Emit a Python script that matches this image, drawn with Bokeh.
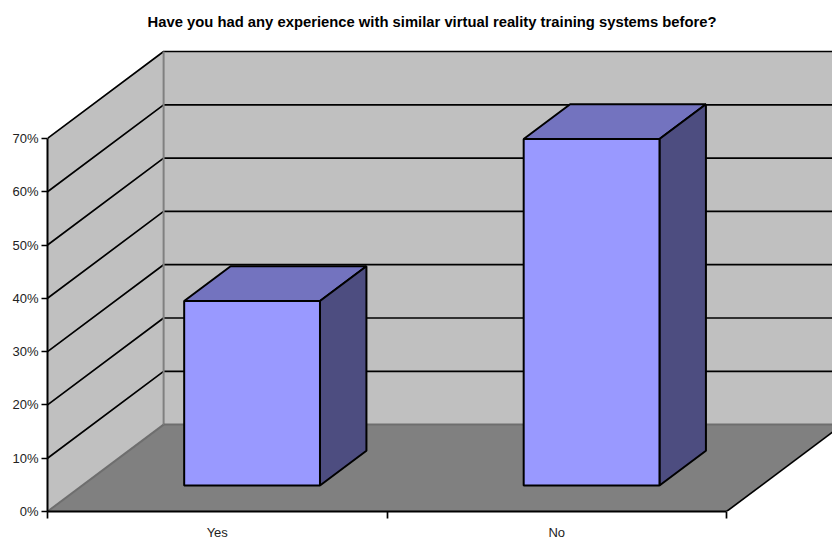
from bokeh.plotting import figure
from bokeh.embed import file_html
from bokeh.resources import INLINE
from bokeh.models import Range1d, LinearAxis, FixedTicker, Title

title_text = "Have you had any experience with similar virtual reality training systems before?"
categories = ["Yes", "No"]
values = [34.6, 65]
y_ticks = [0, 10, 20, 30, 40, 50, 60, 70]
y_tick_labels = ["0%", "10%", "20%", "30%", "40%", "50%", "60%", "70%"]

DX, DY = 0.342, 16.3     # oblique offset of the full chart depth (x in categories, y in percent)
BAR_W, Z0, Z1 = 0.4, 0.3, 0.7
TOP = y_ticks[-1]
N = len(categories)

def px(x, z):
    return x + z * DX

def py(y, z):
    return y + z * DY

p = figure(width=832, height=540, frame_width=785, frame_height=475,
           output_backend="svg", toolbar_location=None,
           x_range=Range1d(0, 785 / 339.5), y_range=Range1d(0, 475 / 5.33),
           x_axis_type=None, y_axis_type=None,
           min_border_left=47, min_border_right=0, min_border_top=36, min_border_bottom=29,
           outline_line_color=None, background_fill_color="white")
p.grid.visible = False

FONT = "Liberation Sans"
p.add_layout(Title(text=title_text, align="left", offset=100, text_font=FONT,
                   text_font_size="14.8px", text_font_style="bold", text_color="black",
                   standoff=14), "above")

WALL, FLOOR = "#c0c0c0", "#808080"
XMAX = N + DX

# walls and floor
p.patch([px(0, 1), px(XMAX, 1), px(XMAX, 1), px(0, 1)],
        [py(0, 1), py(0, 1), py(TOP, 1), py(TOP, 1)], fill_color=WALL, line_color=None)
p.patch([px(0, 0), px(0, 1), px(0, 1), px(0, 0)],
        [py(0, 0), py(0, 1), py(TOP, 1), py(TOP, 0)], fill_color=WALL, line_color=None)
p.patch([px(0, 0), px(N, 0), px(N, 1), px(0, 1)],
        [py(0, 0), py(0, 0), py(0, 1), py(0, 1)], fill_color=FLOOR, line_color=None)

# grid lines
for t in y_ticks[1:]:
    p.line([px(0, 0), px(0, 1), px(XMAX, 1)], [py(t, 0), py(t, 1), py(t, 1)],
           line_color="black", line_width=1.7)

# wall edges
p.line([px(0, 1), px(0, 1)], [py(0, 1), py(TOP, 1)], line_color="#808080", line_width=2)
p.line([px(0, 0), px(0, 1)], [py(0, 0), py(0, 1)], line_color="#6e6e6e", line_width=2)
p.line([px(0, 1), px(XMAX, 1)], [py(0, 1), py(0, 1)], line_color="#6e6e6e", line_width=2)
p.line([px(N, 0), px(N, 1)], [py(0, 0), py(0, 1)], line_color="black", line_width=1.7)

# bars
for i, v in enumerate(values):
    x0 = i + 0.5 - BAR_W / 2
    x1 = i + 0.5 + BAR_W / 2
    p.patch([px(x0, Z0), px(x1, Z0), px(x1, Z1), px(x0, Z1)],
            [py(v, Z0), py(v, Z0), py(v, Z1), py(v, Z1)],
            fill_color="#7373bf", line_color="black", line_width=2)
    p.patch([px(x1, Z0), px(x1, Z1), px(x1, Z1), px(x1, Z0)],
            [py(0, Z0), py(0, Z1), py(v, Z1), py(v, Z0)],
            fill_color="#4d4d80", line_color="black", line_width=2)
    p.patch([px(x0, Z0), px(x1, Z0), px(x1, Z0), px(x0, Z0)],
            [py(0, Z0), py(0, Z0), py(v, Z0), py(v, Z0)],
            fill_color="#9999ff", line_color="black", line_width=2)

# axes
yaxis = LinearAxis(ticker=FixedTicker(ticks=y_ticks), bounds=(0, TOP),
                   major_label_overrides=dict(zip(y_ticks, y_tick_labels)),
                   major_tick_in=0, major_tick_out=6, minor_tick_line_color=None,
                   major_tick_line_width=1.7, axis_line_width=2, axis_line_color="black",
                   major_tick_line_color="black", major_label_standoff=3,
                   major_label_text_font=FONT, major_label_text_font_size="13px",
                   major_label_text_color="#222222")
p.add_layout(yaxis, "left")

centres = [i + 0.5 for i in range(N)]
xaxis = LinearAxis(ticker=FixedTicker(ticks=centres, minor_ticks=list(range(N + 1))), bounds=(0, N),
                   major_label_overrides=dict(zip(centres, categories)),
                   major_tick_in=0, major_tick_out=0, minor_tick_in=0, minor_tick_out=7,
                   minor_tick_line_width=1.7, minor_tick_line_color="black",
                   axis_line_width=2, axis_line_color="black", major_label_standoff=6,
                   major_label_text_font=FONT, major_label_text_font_size="13px",
                   major_label_text_color="#222222")
p.add_layout(xaxis, "below")

open("out.html", "w").write(file_html(p, INLINE))
